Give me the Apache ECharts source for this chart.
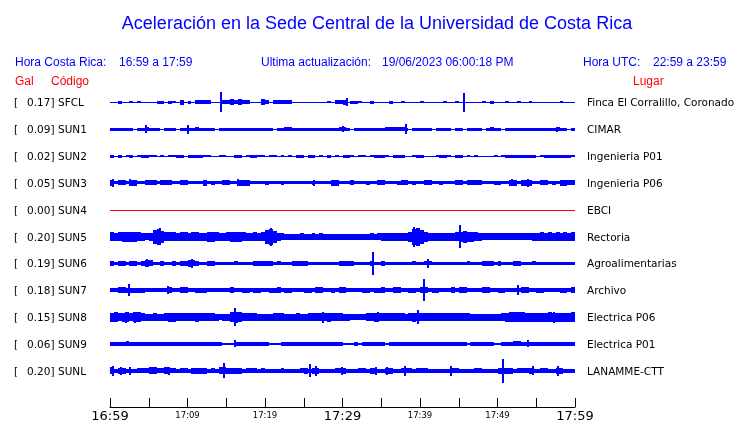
<!DOCTYPE html>
<html><head><meta charset="utf-8">
<script src="https://cdn.jsdelivr.net/npm/echarts@6/dist/echarts.min.js"></script>
<style>html,body{margin:0;padding:0;background:#fff}#c{width:740px;height:423px}</style>
</head><body><div id="c"></div>
<script>
// ---- data ----
const stations = ['SFCL','SUN1','SUN2','SUN3','SUN4','SUN5','SUN6','SUN7','SUN8','SUN9','SUNL'];
const galValues = [0.17,0.09,0.02,0.05,0.00,0.20,0.19,0.18,0.15,0.06,0.20];
const places = ['Finca El Corralillo, Coronado','CIMAR','Ingenieria P01','Ingenieria P06','EBCI','Rectoria','Agroalimentarias','Archivo','Electrica P06','Electrica P01','LANAMME-CTT'];
const tickLabels = ['16:59','17:09','17:19','17:29','17:39','17:49','17:59'];
const BIN_MINUTES = 0.5; // envelope sample spacing (minutes)

// envelope half-amplitudes (counts), one value every 30 s from 16:59
const envSFCL = [0.5,0.5,1.5,0.5,0.5,1,0.5,1,0.5,0.5, 0.5,0.5,1.5,1.5,0.5,1.5,1,0.5,2.5,0.5, 1.5,0.5,2,2,2,2,0.5,0.5,0.5,2, 2,3,2,3,2,2,0.5,0.5,0.5,3, 2,0.5,2,2,2,2,2,0.5,0.5,0.5, 0.5,0.5,0.5,0.5,0.5,0.5,1,0.5,2,2, 2.5,0.5,1.5,1.5,1,0.5,0.5,1.5,0.5,0.5, 0.5,0.5,1.5,0.5,0.5,1,0.5,0.5,0.5,0.5, 1,0.5,0.5,0.5,0.5,0.5,1,0.5,0.5,1, 0.5,0.5,0.5,0.5,0.5,0.5,1,0.5,1.5,0.5, 0.5,0.5,1,0.5,0.5,1,0.5,0.5,1,0.5, 0.5,0.5,0.5,0.5,0.5,0.5,1,0.5,0.5,0.5];
const envSUN1 = [1.5,1.5,1.5,1.5,1.5,1.5,0.5,1.5,1.5,2, 1.5,1.5,1.5,0.5,1.5,1.5,1.5,0.5,1.5,1.5, 1.5,1.5,2,1.5,1.5,1.5,1.5,0.5,1.5,1.5, 1.5,1.5,1.5,1.5,1.5,1.5,1.5,1.5,1.5,1.5, 1.5,1.5,0.5,1.5,1.5,2,2,1.5,1.5,1.5, 1.5,1.5,1.5,1.5,1.5,1.5,1.5,1.5,1.5,2, 2,1.5,0.5,1.5,1.5,1.5,1.5,1.5,1.5,1.5, 1.5,2,2,2,2,2,1.5,0.5,1.5,1.5, 1.5,1.5,1.5,0.5,1.5,1.5,1.5,1.5,0.5,1.5, 1.5,0.5,1.5,1.5,1.5,1.5,0.5,1.5,2,1.5, 1.5,0.5,1.5,1.5,1.5,1.5,1.5,1.5,1.5,1.5, 1.5,1.5,1.5,1.5,1.5,2,1.5,1.5,0.5,1.5];
const envSUN2 = [1.5,0.5,1.5,0.5,1,1.5,0.5,1,1.5,1.5, 1,1,0.5,1,0.5,1,1,1.5,1.5,0.5, 1.5,1.5,1.5,1.5,1,1,0.5,0.5,1,1, 0.5,0.5,1.5,1.5,0.5,1,1.5,1.5,1,1, 0.5,1,1,0.5,1,0.5,1,0.5,1.5,1.5, 0.5,1.5,1.5,0.5,1,0.5,1.5,0.5,1,0.5, 1.5,1.5,1,0.5,1,1,0.5,1,1.5,1.5, 1.5,1,0.5,1.5,1.5,1.5,0.5,0.5,1,1.5, 1.5,0.5,0.5,0.5,1,1.5,1.5,1,0.5,1.5, 1.5,0.5,1,0.5,1,0.5,0.5,0.5,0.5,1, 0.5,1,1.5,1.5,1.5,1.5,1.5,1.5,1.5,1.5, 0.5,1,1.5,1.5,1.5,1.5,1.5,1.5,1.5,1];
const envSUN3 = [3,1.5,2.5,2.5,1.5,3,3,1.5,1.5,2.5, 2.5,2.5,1.5,2.5,2.5,2.5,1.5,1.5,2.5,2.5, 1.5,1.5,1.5,1.5,3,1.5,2,1.5,1.5,2.5, 2.5,1.5,1.5,3,3,3,1.5,1.5,1.5,1.5, 2,1.5,1.5,1.5,2,1.5,1.5,1.5,1.5,1.5, 1.5,1.5,2,1.5,1.5,1.5,1.5,3,3,1.5, 1.5,1.5,2.5,1.5,1.5,1.5,2,1.5,1.5,2.5, 2.5,1.5,1.5,1.5,2,2.5,2.5,1.5,2,1.5, 1.5,2.5,2.5,1.5,1.5,2,1.5,1.5,1.5,2.5, 2.5,1.5,2.5,2.5,2.5,2.5,1.5,1.5,1.5,2, 2,1.5,1.5,3,3,1.5,3,3,3,1.5, 1.5,2.5,2.5,1.5,2,1.5,3,3,2.5,2.5];
const envSUN4 = [0,0,0,0,0,0,0,0,0,0, 0,0,0,0,0,0,0,0,0,0, 0,0,0,0,0,0,0,0,0,0, 0,0,0,0,0,0,0,0,0,0, 0,0,0,0,0,0,0,0,0,0, 0,0,0,0,0,0,0,0,0,0, 0,0,0,0,0,0,0,0,0,0, 0,0,0,0,0,0,0,0,0,0, 0,0,0,0,0,0,0,0,0,0, 0,0,0,0,0,0,0,0,0,0, 0,0,0,0,0,0,0,0,0,0, 0,0,0,0,0,0,0,0,0,0];
const envSUN5 = [4.5,4,4.5,5,5,5,5,4.5,4,3.5, 4,7,8,6,4.5,4.5,4.5,4,4.5,4.5, 4,4.5,4.5,4,4,5,5,4.5,4,4, 4.5,5,5,5,4.5,4,4,4.5,4,4.5, 7,8,6,4,3.5,3,3,3,3,3.5, 3,3,3.5,3,3.5,3,3,3,3,3, 3,3,3,3,3,3,3,3.5,3,3.5, 4,4,4,4,4,4,4,5,8,9, 7,5,4,4,4,4,4,4,4,4.5, 5,6,5,5,4.5,4,3.5,3.5,3.5,3.5, 3.5,3.5,3.5,3.5,3.5,3.5,3.5,3.5,3.5,4, 4,4.5,4,4.5,4,4.5,4,4.5,4,4.5];
const envSUN6 = [2.5,1.7,2.5,2.5,1.7,2.5,2.5,1.7,2.5,3.5, 3,1.7,1.7,2.5,1.7,1.7,2.5,1.7,2.5,2.5, 3.5,3,2.5,1.7,1.7,2.5,2.5,1.7,1.7,1.7, 1.7,1.7,2,1.7,1.7,1.7,1.7,2.5,2.5,2.5, 2.5,2.5,1.7,2,1.7,1.7,1.7,2.5,2.5,2.5, 2.5,1.7,1.7,1.7,1.7,1.7,1.7,1.7,1.7,2.5, 2.5,2.5,2.5,1.7,1.7,1.7,1.7,2.5,1.7,1.7, 2.5,1.7,1.7,1.7,1.7,1.7,1.7,1.7,2,1.7, 1.7,2,2,1.7,1.7,1.7,1.7,1.7,1.7,1.7, 1.7,1.7,2,1.7,1.7,1.7,2.5,2.5,2.5,1.7, 2.5,1.7,1.7,1.7,2.5,2.5,1.7,1.7,1.7,2, 1.7,1.7,1.7,1.7,1.7,1.7,1.7,1.7,1.7,1.7];
const envSUN7 = [2,2,3,3,2.5,2.5,2.5,2.5,2.5,2, 2,2,2,2,2,3,2,2,3,3, 2,2,2.5,2.5,2.5,2,2,2,2,2, 2,3,2,2,2.5,2.5,2,2.5,2.5,2, 2,2.5,2.5,3,2,2.5,2.5,2,2,2, 2.5,2.5,2,3,3,2,2,2.5,2,3, 3,2,2,2,2,2.5,2.5,2,2.5,2.5, 3,2,2,3,3,2,2,2.5,2.5,2, 3,3,2,2.5,2.5,2,2,2,3,2, 3,3,2,2,2,2,3,3,2,2, 2.5,2.5,2,2,2,2,3,3,2,2, 2.5,2.5,2,2,2,2,2.5,2.5,2,3];
const envSUN8 = [4.5,5,4,4.5,5,4,5,5,4,3.5, 3.5,4,3.5,3.5,4,4.5,4.5,4,4,4, 4,4,4.5,4,4,4,4,3.5,3,3.5, 3.5,5,5.5,5,4,4,4,4,3.5,3.5, 3.5,3.5,4,4,4,3.5,3.5,3.5,4,3.5, 3.5,4,4,4,4,4,4.5,4,4,4, 3.5,3.5,3,3,3,3,4,4,4.5,4, 4,4,4,4,4,4,3.5,4,4.5,4, 4,4,4,4,4,4,4,4,4,4, 4,4,4,3.5,3.5,3.5,3.5,3.5,3.5,3.5, 3.5,4,4.5,5,5,5,5,4.5,4.5,4.5, 4.5,4.5,4.5,5,4.5,4.5,4.5,4.5,4.5,5];
const envSUN9 = [1.7,1.7,1.7,1.7,2.5,1.7,1.7,1.7,1.7,1.7, 1.7,2,1.7,1.7,1.7,1.7,1.7,1.7,1.7,1.7, 1.7,1.7,1.7,1.7,1.7,1.7,1.7,1.7,1.7,1.2, 1.2,1.2,1.7,1.7,1.7,1.7,1.7,1.7,1.7,1.7, 1.7,1.2,1.2,1.2,1.7,1.7,1.7,1.7,1.7,1.7, 1.7,1.7,1.7,1.7,1.7,1.7,1.7,1.7,1.7,2, 1.2,1.2,1.2,1.7,1.2,1.7,1.7,1.7,1.7,1.7, 1.7,1.2,1.7,1.7,1.7,1.7,1.7,1.7,1.7,1.7, 1.7,1.7,1.7,1.7,1.7,1.7,1.7,1.7,1.7,1.7, 1.7,1.7,1.2,1.7,1.7,1.7,1.7,1.7,1.7,1.2, 1.2,1.7,1.7,1.7,2.5,2.5,1.7,1.7,2,1.7, 1.7,1.7,1.7,1.7,1.7,1.7,2,1.7,1.7,1.7];
const envSUNL = [3.5,1.8,3,3,1.8,2,1.8,2.5,2.5,2.5, 3.5,3.5,2.5,2.5,3.5,2.5,2.5,1.8,2.5,2.5, 1.8,3,3,3,3,1.8,2.5,1.8,3.5,3.5, 3,3,3,3,1.8,2.5,2.5,2.5,1.8,2.5, 1.8,1.8,1.8,1.8,2.5,2,1.8,1.8,1.8,2.5, 3,1.8,3,3,1.8,1.8,1.8,1.8,2.5,2.5, 3,2,1.8,1.8,2.5,2.5,1.8,3,3,1.8, 1.8,3,3,1.8,1.8,2.5,2.5,2.5,1.8,2.5, 2.5,2.5,1.8,1.8,2,1.8,1.8,1.8,2.5,2.5, 2,1.8,1.8,1.8,2.5,2.5,1.8,1.8,1.8,1.8, 3,3,3,3,1.8,2.5,2.5,2.5,3,1.8, 1.8,2.5,2.5,1.8,1.8,3,3,1.8,1.8,1.8];

// isolated spikes: [minute after 16:59, half-amplitude]
const spkSFCL = [[14.2,10],[30.4,4],[45.5,9.5]];
const spkSUN1 = [[4.5,4],[9.9,4.5],[29.9,3],[38.1,5],[57.5,2.5]];
const spkSUN2 = [];
const spkSUN3 = [[0.3,4],[2.4,3.5],[16.4,3.5],[26.2,3],[51.8,3.5],[53.8,4]];
const spkSUN4 = [];
const spkSUN5 = [[6.3,8.5],[20.6,9],[39.1,10],[45.0,12]];
const spkSUN6 = [[4.6,4],[10.5,4.5],[33.8,11.5],[40.9,4.5]];
const spkSUN7 = [[2.3,6],[7.4,4],[40.4,11],[52.5,5]];
const spkSUN8 = [[1.9,5.5],[3.1,5.5],[16.0,9],[27.4,5.5],[34.5,5],[39.6,7],[57.2,5.5]];
const spkSUN9 = [[16.0,3.5],[53.8,3.5]];
const spkSUNL = [[0.3,5],[1.3,4],[2.5,4],[7.5,4],[14.6,7.5],[25.7,6.5],[26.5,5],[29.8,4],[34.2,4],[35.6,4],[37.9,5],[43.9,5],[50.6,12],[54.5,4.5],[57.7,5]];

const envelopes = [envSFCL,envSUN1,envSUN2,envSUN3,envSUN4,envSUN5,envSUN6,envSUN7,envSUN8,envSUN9,envSUNL];
const spikeLists = [spkSFCL,spkSUN1,spkSUN2,spkSUN3,spkSUN4,spkSUN5,spkSUN6,spkSUN7,spkSUN8,spkSUN9,spkSUNL];

// ---- layout / style ----
const BLUE = '#0000ff', RED = '#ff0000';
const ROW = 27;
const rowCenter = i => 283.5 - ROW * i;
const SANS = "'Liberation Sans', Arial, sans-serif";
const DJ = "'DejaVu Sans', sans-serif";

const chart = echarts.init(document.getElementById('c'), null, {renderer: 'canvas'});

function traceRender(i, color) {
  return function (params, api) {
    const b = api.value(0), a = api.value(1), c = rowCenter(i);
    const p0 = api.coord([b * BIN_MINUTES, c + a]);
    const p1 = api.coord([(b + 1) * BIN_MINUTES, c - a]);
    const x0 = Math.round(p0[0]), x1 = Math.round(p1[0]);
    let y0 = Math.round(p0[1]), y1 = Math.round(p1[1]);
    if (y1 - y0 < 1) y1 = y0 + 1;
    return {type: 'rect', shape: {x: x0, y: y0, width: Math.max(1, x1 - x0), height: y1 - y0}, style: {fill: color}};
  };
}
function spikeRender(i, color) {
  return function (params, api) {
    const m = api.value(0), a = api.value(1), c = rowCenter(i);
    const p0 = api.coord([m, c + a]);
    const p1 = api.coord([m, c - a]);
    const x = Math.round(p0[0]);
    return {type: 'rect', shape: {x: x, y: Math.round(p0[1]), width: 2, height: Math.round(p1[1]) - Math.round(p0[1])}, style: {fill: color}};
  };
}

const series = [];
stations.forEach((s, i) => {
  const color = galValues[i] === 0 ? RED : BLUE;
  series.push({type: 'custom', name: s, coordinateSystem: 'cartesian2d', clip: false, silent: true, animation: false,
    data: envelopes[i].map((a, b) => [b, a]), renderItem: traceRender(i, color)});
  if (spikeLists[i].length) series.push({type: 'custom', name: s + '-spk', coordinateSystem: 'cartesian2d', clip: false, silent: true, animation: false,
    data: spikeLists[i].map(p => [p[0], p[1]]), renderItem: spikeRender(i, color)});
});
// station labels
series.push({type: 'custom', name: 'labels', coordinateSystem: 'cartesian2d', clip: false, silent: true, animation: false,
  data: stations.map((s, i) => [0, rowCenter(i)]),
  renderItem: function (params, api) {
    const i = params.dataIndex;
    const y = Math.round(api.coord([0, rowCenter(i)])[1]) + 1;
    const mk = (text, x) => ({type: 'text', style: {text: text, x: x, y: y, fill: '#000', font: '10.5px ' + DJ, align: 'left', verticalAlign: 'middle', textAlign: 'left', textVerticalAlign: 'middle'}});
    return {type: 'group', children: [
      mk('[', 14), mk(galValues[i].toFixed(2) + ']', 27), mk(stations[i], 58), mk(places[i], 587)
    ]};
  }});

function txt(text, x, y, color, size, align) {
  return {type: 'text', silent: true, x: x, y: y, style: {text: text, fill: color, font: size + 'px ' + SANS, align: align || 'left', verticalAlign: 'middle', textAlign: align || 'left', textVerticalAlign: 'middle'}};
}

chart.setOption({
  animation: false,
  backgroundColor: '#fff',
  grid: {left: 110, right: 165, top: 89, bottom: 14, containLabel: false},
  xAxis: {type: 'value', min: 0, max: 60, interval: 5,
    axisLine: {onZero: false, lineStyle: {color: '#000', width: 1}},
    axisTick: {inside: true, length: 9, lineStyle: {color: '#000'}},
    splitLine: {show: false},
    axisLabel: {margin: 3, hideOverlap: false, showMinLabel: true, showMaxLabel: true,
      formatter: v => (v % 10 === 0 ? (v % 30 === 0 ? '{b|' + tickLabels[v / 10] + '}' : '{s|' + tickLabels[v / 10] + '}') : ''),
      rich: {b: {fontFamily: DJ, fontSize: 13, color: '#000'}, s: {fontFamily: DJ, fontSize: 8.5, color: '#000', padding: [1, 0, 0, 0]}}}
  },
  yAxis: {type: 'value', min: -23, max: 297, show: false},
  graphic: [
    txt('Aceleración en la Sede Central de la Universidad de Costa Rica', 377, 24, BLUE, 18, 'center'),
    txt('Hora Costa Rica:', 15, 63, BLUE, 12),
    txt('16:59 a 17:59', 119, 63, BLUE, 12),
    txt('Ultima actualización:', 261, 63, BLUE, 12),
    txt('19/06/2023 06:00:18 PM', 382, 63, BLUE, 12),
    txt('Hora UTC:', 583, 63, BLUE, 12),
    txt('22:59 a 23:59', 653, 63, BLUE, 12),
    txt('Gal', 15, 82, RED, 12),
    txt('Código', 51, 82, RED, 12),
    txt('Lugar', 633, 82, RED, 12)
  ],
  series: series
});
</script></body></html>
